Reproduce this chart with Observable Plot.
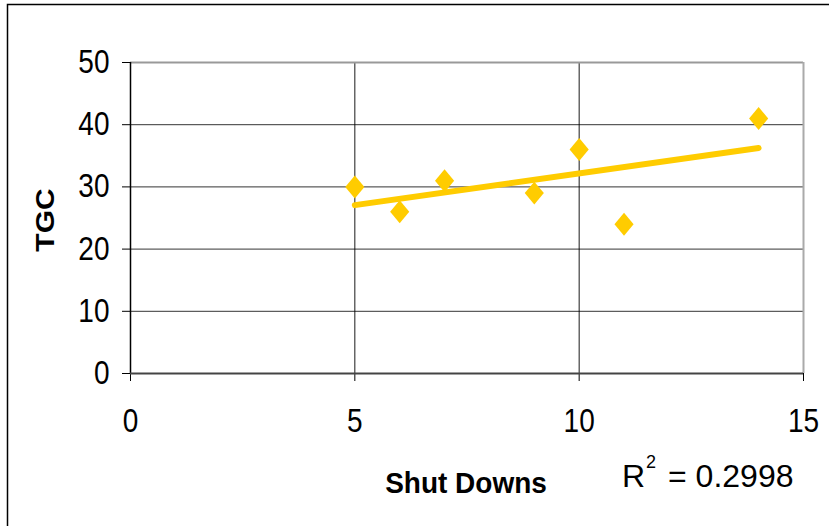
<!DOCTYPE html>
<html>
<head>
<meta charset="utf-8">
<script src="https://cdn.jsdelivr.net/npm/d3@7"></script>
<script src="https://cdn.jsdelivr.net/npm/@observablehq/plot@0.6"></script>
<style>
  html, body { margin: 0; padding: 0; background: #fff; }
  #chart { width: 829px; height: 526px; overflow: hidden; }
</style>
</head>
<body>
<div id="chart"></div>
<script>
// Data
const shutDowns = [5, 6, 7, 9, 10, 11, 14];
const tgc = [30, 26, 31, 29, 36, 24, 41];
const xTicks = [0, 5, 10, 15];
const yTicks = [0, 10, 20, 30, 40, 50];
const xLabel = "Shut Downs";
const yLabel = "TGC";
const r2Text = "0.2998";

const data = shutDowns.map((x, i) => ({x, y: tgc[i]}));

const yellow = "#FFCC00";
const font = "'Liberation Sans', Arial, sans-serif";

// diamond slightly taller than wide
const diamond = {
  draw(context, size) {
    const w = Math.sqrt(size) * 0.6;
    const h = w * 1.2;
    context.moveTo(0, -h);
    context.lineTo(w, 0);
    context.lineTo(0, h);
    context.lineTo(-w, 0);
    context.closePath();
  }
};

const plot = Plot.plot({
  width: 829,
  height: 526,
  marginLeft: 130,
  marginRight: 26,
  marginTop: 62,
  marginBottom: 153,
  style: {fontFamily: font, background: "#fff", color: "#000", overflow: "visible"},
  x: {domain: [0, 15]},
  y: {domain: [0, 50]},
  marks: [
    Plot.gridY(yTicks.slice(1, -1), {stroke: "#000", strokeOpacity: 0.8, strokeWidth: 1}),
    Plot.gridX(xTicks.slice(1, -1), {stroke: "#000", strokeOpacity: 0.9, strokeWidth: 1}),
    Plot.ruleY([50], {stroke: "#999", strokeWidth: 2}),
    Plot.ruleX([15], {stroke: "#aaa", strokeWidth: 2}),
    Plot.axisY({ticks: yTicks, tickSize: 8, tickPadding: 13, fontSize: 28, label: null, stroke: "#000"}),
    Plot.axisX({ticks: xTicks, tickSize: 8, tickPadding: 29, fontSize: 28, label: null, stroke: "#000"}),
    Plot.ruleX([0], {stroke: "#000", strokeWidth: 1.5}),
    Plot.ruleY([0], {stroke: "#444", strokeWidth: 2}),
    Plot.linearRegressionY(data, {x: "x", y: "y", stroke: yellow, strokeWidth: 6, ci: 0, strokeLinecap: "round"}),
    Plot.dot(data, {x: "x", y: "y", symbol: diamond, r: 9, fill: yellow, stroke: "none"})
  ]
});

document.getElementById("chart").appendChild(plot);

const svg = d3.select(plot);

// stretch a text element vertically (screen y) about its own centre
function stretch(el, k) {
  const parent = el.parentNode;
  const bb = el.getBBox();
  let p = plot.createSVGPoint();
  p.x = bb.x + bb.width / 2;
  p.y = bb.y + bb.height / 2;
  p = p.matrixTransform(el.getCTM());
  p = p.matrixTransform(parent.getCTM().inverse());
  const g = document.createElementNS("http://www.w3.org/2000/svg", "g");
  g.setAttribute("transform", `translate(${p.x},${p.y}) scale(1,${k}) translate(${-p.x},${-p.y})`);
  parent.insertBefore(g, el);
  g.appendChild(el);
}

// tick labels are tall and narrow in the reference
plot.querySelectorAll("g[aria-label$='tick label'] text").forEach(t => stretch(t, 1.17));

// outer chart border
svg.append("rect")
  .attr("x", 7.5).attr("y", 4.5)
  .attr("width", 900).attr("height", 600)
  .attr("fill", "none").attr("stroke", "#000").attr("stroke-width", 1.5);

// x axis title
const xt = svg.append("text")
  .attr("x", 466).attr("y", 492)
  .attr("text-anchor", "middle")
  .attr("font-family", font).attr("font-weight", "bold").attr("font-size", 28)
  .attr("fill", "#000")
  .text(xLabel);
stretch(xt.node(), 1.08);

// y axis title
const yt = svg.append("text")
  .attr("transform", "translate(54,220) rotate(-90)")
  .attr("text-anchor", "middle")
  .attr("font-family", font).attr("font-weight", "bold").attr("font-size", 25)
  .attr("fill", "#000")
  .text(yLabel);
stretch(yt.node(), 1.2);

// R squared
const r2 = svg.append("text")
  .attr("x", 622).attr("y", 487)
  .attr("text-anchor", "start")
  .attr("font-family", font).attr("font-size", 32)
  .attr("fill", "#000");
r2.append("tspan").text("R");
r2.append("tspan").attr("font-size", 18).attr("dx", 1).attr("dy", -19).text("2");
r2.append("tspan").attr("dx", 3).attr("dy", 19).text(" = " + r2Text);
</script>
</body>
</html>
